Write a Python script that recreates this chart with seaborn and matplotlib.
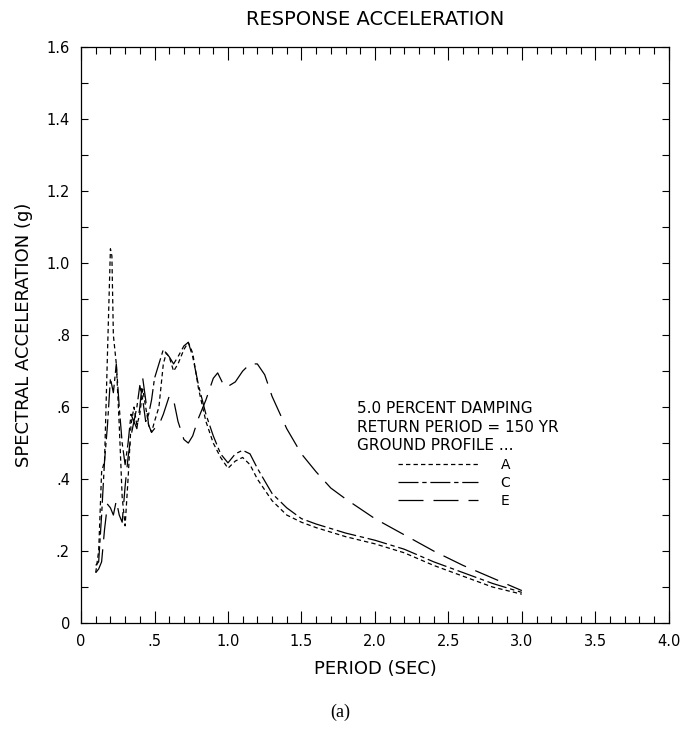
import matplotlib
matplotlib.use("Agg")
import matplotlib.pyplot as plt
import pandas as pd
import seaborn as sns
from matplotlib.ticker import MultipleLocator, FixedLocator

# spectral acceleration (g) vs period (sec)
period_a = [0.10, 0.12, 0.14, 0.16, 0.18, 0.20, 0.21, 0.22, 0.24, 0.26, 0.28, 0.30,
            0.32, 0.34, 0.36, 0.38, 0.40, 0.42, 0.44, 0.46, 0.48, 0.50, 0.53, 0.56,
            0.58, 0.60, 0.63, 0.66, 0.70, 0.73, 0.76, 0.80, 0.85, 0.90, 0.95, 1.00,
            1.05, 1.10, 1.15, 1.20, 1.30, 1.40, 1.50, 1.60, 1.80, 2.00, 2.20, 2.40,
            2.60, 2.80, 3.00]
sa_a = [0.14, 0.20, 0.42, 0.45, 0.75, 1.04, 1.02, 0.80, 0.72, 0.55, 0.35, 0.27,
        0.40, 0.55, 0.60, 0.55, 0.58, 0.65, 0.60, 0.55, 0.53, 0.56, 0.60, 0.72,
        0.75, 0.74, 0.70, 0.72, 0.76, 0.78, 0.75, 0.65, 0.56, 0.50, 0.46, 0.43,
        0.45, 0.46, 0.44, 0.40, 0.34, 0.30, 0.28, 0.265, 0.24, 0.22, 0.195, 0.16,
        0.13, 0.10, 0.08]

period_c = [0.10, 0.12, 0.14, 0.16, 0.18, 0.20, 0.22, 0.24, 0.26, 0.28, 0.30, 0.32,
            0.34, 0.36, 0.38, 0.40, 0.42, 0.44, 0.46, 0.48, 0.50, 0.53, 0.56, 0.60,
            0.63, 0.66, 0.70, 0.73, 0.76, 0.80, 0.85, 0.90, 0.95, 1.00, 1.05, 1.10,
            1.15, 1.20, 1.30, 1.40, 1.50, 1.60, 1.80, 2.00, 2.20, 2.40, 2.60, 2.80,
            3.00]
sa_c = [0.16, 0.17, 0.30, 0.45, 0.55, 0.68, 0.64, 0.72, 0.60, 0.50, 0.44, 0.50,
        0.58, 0.56, 0.60, 0.66, 0.62, 0.56, 0.58, 0.62, 0.68, 0.72, 0.76, 0.74,
        0.72, 0.74, 0.77, 0.78, 0.74, 0.66, 0.58, 0.52, 0.47, 0.445, 0.47, 0.48,
        0.47, 0.43, 0.36, 0.32, 0.29, 0.275, 0.25, 0.23, 0.205, 0.17, 0.14, 0.11,
        0.085]

period_e = [0.10, 0.12, 0.14, 0.16, 0.18, 0.20, 0.22, 0.24, 0.26, 0.28, 0.30, 0.32,
            0.34, 0.36, 0.38, 0.40, 0.42, 0.44, 0.46, 0.48, 0.50, 0.53, 0.56, 0.60,
            0.63, 0.66, 0.70, 0.73, 0.76, 0.80, 0.85, 0.90, 0.93, 0.96, 0.99, 1.05,
            1.10, 1.15, 1.20, 1.25, 1.30, 1.40, 1.50, 1.60, 1.70, 1.80, 2.00, 2.20,
            2.40, 2.60, 2.80, 3.00]
sa_e = [0.14, 0.15, 0.17, 0.26, 0.33, 0.32, 0.30, 0.34, 0.30, 0.28, 0.38, 0.46,
        0.52, 0.56, 0.54, 0.60, 0.68, 0.62, 0.55, 0.53, 0.54, 0.55, 0.58, 0.63,
        0.62, 0.56, 0.51, 0.50, 0.52, 0.57, 0.62, 0.68, 0.695, 0.67, 0.655, 0.67,
        0.70, 0.72, 0.72, 0.69, 0.63, 0.54, 0.47, 0.42, 0.375, 0.345, 0.29, 0.245,
        0.20, 0.16, 0.125, 0.09]

profiles = ["A", "C", "E"]
x_ticks = [0, 0.5, 1.0, 1.5, 2.0, 2.5, 3.0, 3.5, 4.0]
x_tick_labels = ["0", ".5", "1.0", "1.5", "2.0", "2.5", "3.0", "3.5", "4.0"]
y_ticks = [0, 0.2, 0.4, 0.6, 0.8, 1.0, 1.2, 1.4, 1.6]
y_tick_labels = ["0", ".2", ".4", ".6", ".8", "1.0", "1.2", "1.4", "1.6"]

df = pd.concat([
    pd.DataFrame({"period": period_a, "sa": sa_a, "profile": "A"}),
    pd.DataFrame({"period": period_c, "sa": sa_c, "profile": "C"}),
    pd.DataFrame({"period": period_e, "sa": sa_e, "profile": "E"}),
])

sns.set_style("ticks")
plt.rcParams["font.family"] = ["DejaVu Sans"]
plt.rcParams["text.color"] = "black"
plt.rcParams["axes.labelcolor"] = "black"

fig = plt.figure(figsize=(6.81, 7.39), dpi=100)
ax = fig.add_axes([0.119, 0.157, 0.863, 0.779])

sns.lineplot(
    data=df,
    x="period",
    y="sa",
    style="profile",
    style_order=profiles,
    dashes={"A": (3.5, 2.5), "C": (16, 3, 3.5, 3), "E": (20, 8)},
    color="black",
    linewidth=0.9,
    legend=False,
    ax=ax,
)

ax.set_xlim(0, 4.0)
ax.set_ylim(0, 1.6)
ax.xaxis.set_major_locator(FixedLocator(x_ticks))
ax.set_xticklabels(x_tick_labels)
ax.yaxis.set_major_locator(FixedLocator(y_ticks))
ax.set_yticklabels(y_tick_labels)
ax.xaxis.set_minor_locator(MultipleLocator(0.1))
ax.yaxis.set_minor_locator(MultipleLocator(0.1))
ax.tick_params(which="both", direction="in", top=True, right=True,
               width=0.8, colors="black", labelsize=10.5)
ax.tick_params(which="major", length=9, pad=8)
ax.tick_params(which="minor", length=5)
ax.tick_params(axis="y", which="major", length=5)
for side in ax.spines.values():
    side.set_linewidth(0.9)
    side.set_color("black")

ax.set_xlabel("PERIOD (SEC)", fontsize=13, labelpad=8)
ax.set_ylabel("SPECTRAL ACCELERATION (g)", fontsize=13, labelpad=10)
ax.set_title("RESPONSE ACCELERATION", fontsize=14, pad=16)

# legend block
ax.text(1.88, 0.597, "5.0 PERCENT DAMPING", fontsize=11, va="center")
ax.text(1.88, 0.544, "RETURN PERIOD = 150 YR", fontsize=11, va="center")
ax.text(1.88, 0.492, "GROUND PROFILE ...", fontsize=11, va="center")
ax.legend(ax.get_lines(), profiles, loc="upper left",
          bbox_to_anchor=(0.539, 0.287), frameon=False,
          handlelength=5.8, handletextpad=1.6, labelspacing=0.3,
          fontsize=10, borderpad=0, borderaxespad=0)

fig.text(0.50, 0.03, "(a)", fontsize=13, ha="center",
         family=["Liberation Serif"])

fig.savefig("out.png", dpi=100)
